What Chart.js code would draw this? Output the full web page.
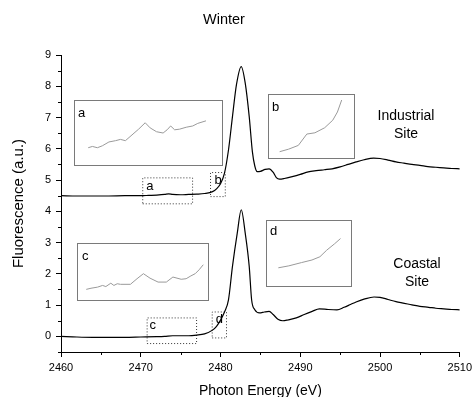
<!DOCTYPE html>
<html lang="en">
<head>
<meta charset="UTF-8">
<title>Winter</title>
<script src="https://cdn.jsdelivr.net/npm/chart.js"></script>
<style>
  body { margin: 0; background: #fff; font-family: 'Liberation Sans', Arial, sans-serif; }
  #wrap { position: relative; width: 476px; height: 397px; overflow: hidden; }
  .txt { position: absolute; color: #000; white-space: nowrap; text-align: center; transform: translateX(-50%); }
  .inset { position: absolute; border: 1px solid #7a7a7a; background: #fff; box-sizing: border-box; }
  .inset canvas { position: absolute; left: 0; top: 0; }
  .inset span { position: absolute; left: 3px; top: 5px; font-size: 13px; line-height: 13px; }
</style>
</head>
<body>
<div id="wrap">
  <canvas id="main" width="476" height="397"></canvas>
  <div class="txt" style="left:224px; top:11px; font-size:14.5px;">Winter</div>
  <div class="txt" style="left:406px; top:107px; font-size:14px; line-height:17.5px;">Industrial<br>Site</div>
  <div class="txt" style="left:417px; top:255px; font-size:14px; line-height:17.5px;">Coastal<br>Site</div>

  <div class="inset" style="left:74px; top:100px; width:149px; height:66px;"><canvas id="insetA"></canvas><span>a</span></div>
  <div class="inset" style="left:268px; top:94px; width:87px; height:65px;"><canvas id="insetB"></canvas><span>b</span></div>
  <div class="inset" style="left:77px; top:243px; width:132px; height:58px;"><canvas id="insetC"></canvas><span style="left:4px;">c</span></div>
  <div class="inset" style="left:266px; top:220px; width:86px; height:67px;"><canvas id="insetD"></canvas><span style="top:3px;">d</span></div>
</div>

<script>
// main spectra
const industrialE = [2460, 2462, 2464, 2466, 2468, 2470, 2471, 2472, 2473, 2473.5, 2474, 2475, 2476, 2477, 2478, 2479, 2479.5, 2480, 2480.5, 2481, 2481.5, 2482, 2482.6, 2483.1, 2483.6, 2484.0, 2484.3, 2484.6, 2485.0, 2485.6, 2486.1, 2486.6, 2487.0, 2487.4, 2488, 2489, 2490, 2491, 2492, 2493, 2494, 2495, 2496, 2497, 2498, 2499.2, 2500, 2501, 2502, 2503, 2504, 2505, 2506, 2507, 2508, 2509, 2510];
const industrialF = [4.50, 4.49, 4.49, 4.49, 4.50, 4.50, 4.51, 4.52, 4.54, 4.56, 4.54, 4.53, 4.54, 4.55, 4.57, 4.63, 4.72, 4.88, 5.22, 5.96, 7.03, 8.05, 8.63, 8.10, 7.03, 5.90, 5.45, 5.27, 5.28, 5.34, 5.36, 5.25, 5.08, 5.03, 5.05, 5.11, 5.18, 5.26, 5.30, 5.33, 5.36, 5.42, 5.50, 5.58, 5.65, 5.70, 5.69, 5.64, 5.58, 5.54, 5.50, 5.47, 5.43, 5.41, 5.39, 5.37, 5.36];

const coastalE = [2460, 2462, 2464, 2466, 2468, 2470, 2472, 2473, 2474, 2475, 2476, 2477, 2478, 2479, 2479.5, 2480, 2480.5, 2481, 2481.5, 2482.1, 2482.6, 2483.1, 2483.6, 2483.9, 2484.3, 2484.9, 2485.5, 2486.1, 2486.6, 2487.2, 2487.8, 2488.5, 2489.5, 2490.5, 2491.5, 2492.4, 2493.5, 2494.6, 2495.5, 2496.3, 2497, 2498, 2499.25, 2500, 2501, 2502, 2502.75, 2504, 2505, 2506.1, 2507, 2508, 2509, 2510];
const coastalF = [0.00, -0.02, -0.03, -0.03, -0.03, -0.02, -0.01, 0.00, 0.02, 0.02, 0.02, 0.04, 0.08, 0.20, 0.32, 0.52, 0.78, 1.17, 2.24, 3.30, 4.05, 3.30, 2.24, 1.17, 0.85, 0.75, 0.78, 0.80, 0.70, 0.55, 0.50, 0.53, 0.59, 0.70, 0.80, 0.88, 0.86, 0.85, 0.93, 1.02, 1.10, 1.19, 1.26, 1.25, 1.18, 1.11, 1.07, 1.01, 0.96, 0.93, 0.90, 0.88, 0.86, 0.85];

// dotted zoom regions [xmin, xmax, ymin, ymax]
const regionNames = ['a', 'b', 'c', 'd'];
const regionA = [2470.25, 2476.5, 4.24, 5.07];
const regionB = [2478.75, 2480.6, 4.47, 5.24];
const regionC = [2470.8, 2477.0, -0.23, 0.59];
const regionD = [2478.96, 2480.75, -0.05, 0.78];
// label anchor (left, middle) of each region letter
const labelE = [2470.7, 2479.25, 2471.1, 2479.4];
const labelF = [4.81, 5.0, 0.34, 0.53];

// inset traces (relative intensity 0..1)
const insetAE = [2471.0, 2471.18, 2471.39, 2471.6, 2471.88, 2472.16, 2472.37, 2472.58, 2472.86, 2473.14, 2473.42, 2473.63, 2473.9, 2474.18, 2474.35, 2474.5, 2474.67, 2474.88, 2475.16, 2475.44, 2475.65, 2476.0];
const insetAF = [0.27, 0.29, 0.27, 0.30, 0.36, 0.38, 0.40, 0.38, 0.47, 0.56, 0.66, 0.58, 0.52, 0.50, 0.55, 0.61, 0.55, 0.56, 0.59, 0.61, 0.65, 0.69];
const insetBE = [2478.95, 2479.16, 2479.39, 2479.59, 2479.78, 2480.01, 2480.2, 2480.31, 2480.41];
const insetBF = [0.10, 0.14, 0.20, 0.38, 0.40, 0.48, 0.60, 0.73, 0.92];
const insetCE = [2471.10, 2471.33, 2471.65, 2471.89, 2472.05, 2472.29, 2472.44, 2472.6, 2472.76, 2473.24, 2473.56, 2473.87, 2474.19, 2474.58, 2474.98, 2475.3, 2475.7, 2475.94, 2476.17, 2476.38, 2476.57, 2476.77];
const insetCF = [0.19, 0.21, 0.23, 0.26, 0.24, 0.30, 0.26, 0.29, 0.28, 0.28, 0.38, 0.47, 0.39, 0.32, 0.32, 0.41, 0.37, 0.38, 0.43, 0.47, 0.54, 0.63];
const insetDE = [2479.17, 2479.42, 2479.72, 2479.97, 2480.16, 2480.32, 2480.51, 2480.65];
const insetDF = [0.28, 0.31, 0.36, 0.40, 0.45, 0.55, 0.65, 0.73];

const xTicks = [2460, 2470, 2480, 2490, 2500, 2510];
const xMinor = [2465, 2475, 2485, 2495, 2505];
const yTicks = [0, 1, 2, 3, 4, 5, 6, 7, 8, 9];
const yMinor = [-0.5, 0.5, 1.5, 2.5, 3.5, 4.5, 5.5, 6.5, 7.5, 8.5];

const zip = (xs, ys) => xs.map((x, i) => ({ x: x, y: ys[i] }));
const boxPoints = r => [
    { x: r[0], y: r[2] }, { x: r[1], y: r[2] }, { x: r[1], y: r[3] }, { x: r[0], y: r[3] }, { x: r[0], y: r[2] }
];

const FONT = 'Liberation Sans, Arial, sans-serif';

// small outward minor ticks + region letters
const extras = {
    id: 'extras',
    afterDraw(chart) {
        const ctx = chart.ctx;
        const xs = chart.scales.x, ys = chart.scales.y;
        ctx.save();
        ctx.strokeStyle = '#000';
        ctx.lineWidth = 1;
        ctx.beginPath();
        xMinor.forEach(v => {
            const px = Math.round(xs.getPixelForValue(v)) + 0.5;
            ctx.moveTo(px, xs.top);
            ctx.lineTo(px, xs.top + 3);
        });
        yMinor.forEach(v => {
            const py = Math.round(ys.getPixelForValue(v)) + 0.5;
            ctx.moveTo(ys.right, py);
            ctx.lineTo(ys.right - 3, py);
        });
        ctx.stroke();
        ctx.fillStyle = '#000';
        ctx.font = '13px ' + FONT;
        ctx.textAlign = 'left';
        ctx.textBaseline = 'middle';
        regionNames.forEach((n, i) => {
            ctx.fillText(n, xs.getPixelForValue(labelE[i]), ys.getPixelForValue(labelF[i]));
        });
        ctx.restore();
    }
};

const boxStyle = {
    borderColor: '#333',
    borderWidth: 1,
    borderDash: [1, 2],
    pointRadius: 0,
    tension: 0,
    fill: false
};

new Chart(document.getElementById('main'), {
    type: 'line',
    data: {
        datasets: [
            { label: 'Industrial Site', data: zip(industrialE, industrialF), borderColor: '#000', borderWidth: 1.2, pointRadius: 0, cubicInterpolationMode: 'monotone', fill: false },
            { label: 'Coastal Site', data: zip(coastalE, coastalF), borderColor: '#000', borderWidth: 1.2, pointRadius: 0, cubicInterpolationMode: 'monotone', fill: false },
            Object.assign({ label: 'a', data: boxPoints(regionA) }, boxStyle),
            Object.assign({ label: 'b', data: boxPoints(regionB) }, boxStyle),
            Object.assign({ label: 'c', data: boxPoints(regionC) }, boxStyle),
            Object.assign({ label: 'd', data: boxPoints(regionD) }, boxStyle)
        ]
    },
    options: {
        responsive: false,
        animation: false,
        layout: { padding: { top: 55, right: 15, left: 0, bottom: 0 } },
        plugins: { legend: { display: false }, tooltip: { enabled: false } },
        scales: {
            x: {
                type: 'linear',
                min: 2460,
                max: 2510,
                afterBuildTicks: s => { s.ticks = xTicks.map(v => ({ value: v })); },
                afterFit: s => { s.height = 45; },
                grid: { drawOnChartArea: false, color: '#000', tickLength: 5 },
                border: { display: true, color: '#000', width: 1 },
                ticks: { color: '#000', font: { family: FONT, size: 11 }, padding: 4, maxRotation: 0, autoSkip: false, callback: v => String(v) },
                title: { display: true, text: 'Photon Energy (eV)', color: '#000', font: { family: FONT, size: 14 }, padding: { top: 0, bottom: -3 } }
            },
            y: {
                min: -0.5,
                max: 9,
                afterBuildTicks: s => { s.ticks = yTicks.map(v => ({ value: v })); },
                afterFit: s => { s.width = 61; },
                grid: { drawOnChartArea: false, color: '#000', tickLength: 5 },
                border: { display: true, color: '#000', width: 1 },
                ticks: { color: '#000', font: { family: FONT, size: 11 }, padding: 5, callback: v => String(v) },
                title: { display: true, text: 'Fluorescence (a.u.)', color: '#000', font: { family: FONT, size: 15 }, padding: { top: 10, bottom: 0 } }
            }
        }
    },
    plugins: [extras]
});

// insets
function inset(id, xs, ys, xmin, xmax) {
    const el = document.getElementById(id);
    const box = el.parentNode;
    el.width = box.clientWidth;
    el.height = box.clientHeight;
    new Chart(el, {
        type: 'line',
        data: { datasets: [{ data: zip(xs, ys), borderColor: '#9a9a9a', borderWidth: 1, pointRadius: 0, tension: 0, fill: false }] },
        options: {
            responsive: false,
            animation: false,
            layout: { padding: 0 },
            plugins: { legend: { display: false }, tooltip: { enabled: false } },
            scales: {
                x: { type: 'linear', display: false, min: xmin, max: xmax },
                y: { display: false, min: 0, max: 1 }
            }
        }
    });
}
inset('insetA', insetAE, insetAF, 2470.44, 2476.68);
inset('insetB', insetBE, insetBF, 2478.7, 2480.7);
inset('insetC', insetCE, insetCF, 2470.7, 2477.0);
inset('insetD', insetDE, insetDF, 2478.9, 2480.9);
</script>
</body>
</html>
